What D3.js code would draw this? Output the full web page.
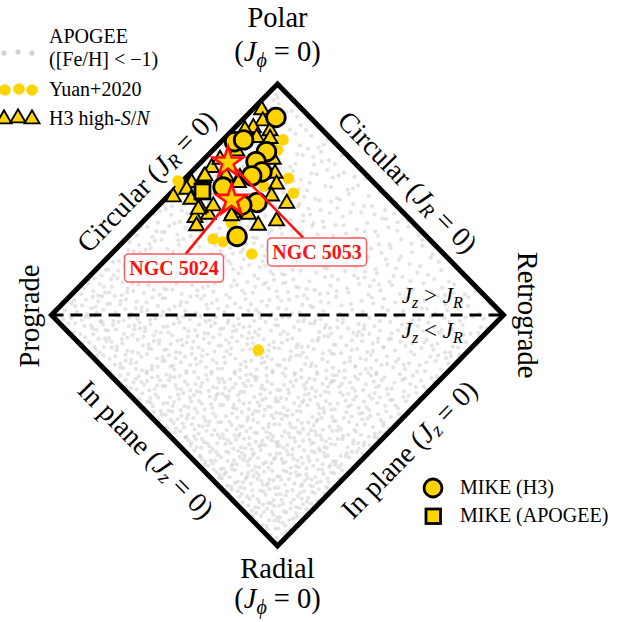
<!DOCTYPE html>
<html><head><meta charset="utf-8">
<script src="https://cdn.jsdelivr.net/npm/d3@7"></script>
<style>html,body{margin:0;padding:0;background:#fff;}svg{display:block;}</style>
</head><body>
<svg id="chart" width="618" height="622"></svg>
<script>
// ---- data (action-space coordinates: x = Jphi/Jtot, y = (Jz-JR)/Jtot) ----
const mikeH3 = [
  [-0.007,0.855],[-0.190,0.750],[-0.150,0.758],[-0.049,0.707],[-0.095,0.664],
  [-0.069,0.619],[-0.114,0.602],[-0.241,0.554],[-0.091,0.487],[-0.158,0.476],[-0.179,0.340]
];
const mikeApogee = [[-0.332,0.535]];
const h3HighSN = [
  [-0.070,0.892],[-0.065,0.844],[-0.107,0.815],[-0.033,0.801],[-0.092,0.772],[-0.033,0.768],
  [-0.144,0.805],[-0.019,0.678],[-0.011,0.617],[-0.004,0.570],[-0.026,0.519],[0.041,0.487],
  [-0.004,0.411],[-0.085,0.392],[-0.196,0.447],[-0.365,0.426],[-0.358,0.390],[-0.306,0.440],
  [-0.343,0.469],[-0.328,0.599],[-0.380,0.577],[-0.402,0.548],[-0.461,0.515],[-0.383,0.505],
  [-0.291,0.642],[-0.254,0.678],[-0.166,0.599],[-0.181,0.469],[-0.129,0.440],[-0.284,0.476],
  [-0.350,0.462],[-0.173,0.577],[-0.321,0.606],[-0.203,0.433],[-0.181,0.714],[-0.228,0.606]
];
const yuan2020 = [
  [-0.285,0.329],[-0.241,0.317],[-0.114,0.264],[-0.085,-0.152],[0.048,0.592],[0.070,0.527],
  [0.000,0.714],[-0.203,0.397],[-0.431,0.541],[-0.440,0.580],[0.024,0.758],[-0.060,0.558]
];
const clusters = [
  {name:"NGC 5053", x:-0.219, y:0.667, lx:0.175, ly:0.273},
  {name:"NGC 5024", x:-0.203, y:0.505, lx:-0.458, ly:0.203}
];
// APOGEE [Fe/H] < -1 stars: relative number of stars per 0.25 x 0.25 cell (rows from y=1 down to y=-1, cols x=-1..1)
const apogeeCellEdgesX = [-1,-0.75,-0.5,-0.25,0,0.25,0.5,0.75];
const apogeeCellEdgesY = [0.75,0.5,0.25,0,-0.25,-0.5,-0.75,-1];
const apogeeDensity = [
  [30,30,30,36,34,26,24,24],
  [38,38,38,40,34,30,24,24],
  [52,48,44,40,36,32,28,24],
  [66,58,50,46,44,38,32,30],
  [78,70,64,64,60,54,48,44],
  [78,78,78,80,76,66,54,50],
  [84,86,88,94,90,76,62,60],
  [86,90,94,96,90,84,72,66]
];

// ---- layout ----
const svg = d3.select("#chart");
const xS = d3.scaleLinear().domain([-1,1]).range([51.5,503.5]);
const yS = d3.scaleLinear().domain([-1,1]).range([546,84]);
const SERIF = "'Liberation Serif','Times New Roman',Times,serif";
const GOLD = "#ffd400";
const RED = "#ff1010";

// APOGEE background points (placed deterministically inside each cell)
function halton(i,b){let f=1,r=0;while(i>0){f/=b;r+=f*(i%b);i=Math.floor(i/b);}return r;}
const apogeePts = [];
let k = 1;
apogeeDensity.forEach((row,ri)=>{
  row.forEach((n,ci)=>{
    const x0 = apogeeCellEdgesX[ci], y0 = apogeeCellEdgesY[ri];
    for(let j=0;j<n;j++,k++){
      const x = x0 + 0.25*halton(k,2), y = y0 + 0.25*halton(k,3);
      if(Math.abs(x)+Math.abs(y) < 0.99) apogeePts.push([x,y]);
    }
  });
});
svg.append("g").selectAll("circle").data(apogeePts).join("circle")
  .attr("cx",d=>xS(d[0])).attr("cy",d=>yS(d[1])).attr("r",2.1)
  .attr("fill","#c4c4c4").attr("fill-opacity",0.45);

// diamond
const corners = [[0,1],[1,0],[0,-1],[-1,0]];
svg.append("path")
  .attr("d", d3.line().x(d=>xS(d[0])).y(d=>yS(d[1]))(corners)+"Z")
  .attr("fill","none").attr("stroke","#000").attr("stroke-width",5).attr("stroke-linejoin","miter");
svg.append("line").attr("x1",xS(-1)).attr("x2",xS(1)).attr("y1",yS(0)).attr("y2",yS(0))
  .attr("stroke","#000").attr("stroke-width",3).attr("stroke-dasharray","12,7");

// markers
const gM = svg.append("g");
gM.selectAll("circle.yuan").data(yuan2020).join("circle").attr("class","yuan")
  .attr("cx",d=>xS(d[0])).attr("cy",d=>yS(d[1])).attr("r",5.8).attr("fill",GOLD);
const tri = d3.symbol().type(d3.symbolTriangle).size(98);
gM.selectAll("path.tri").data(h3HighSN).join("path").attr("class","tri")
  .attr("d",tri).attr("transform",d=>`translate(${xS(d[0])},${yS(d[1])+1})`)
  .attr("fill",GOLD).attr("stroke","#000").attr("stroke-width",1.9).attr("stroke-linejoin","miter");
gM.selectAll("rect.mk").data(mikeApogee).join("rect").attr("class","mk")
  .attr("x",d=>xS(d[0])-7.5).attr("y",d=>yS(d[1])-7.5).attr("width",15).attr("height",15)
  .attr("fill",GOLD).attr("stroke","#000").attr("stroke-width",2.8);
gM.selectAll("circle.mk").data(mikeH3).join("circle").attr("class","mk")
  .attr("cx",d=>xS(d[0])).attr("cy",d=>yS(d[1])).attr("r",9.3)
  .attr("fill",GOLD).attr("stroke","#000").attr("stroke-width",2.8);

// cluster annotations
const boxW = 99, boxH = 28;
clusters.forEach(c=>{
  const sx = xS(c.x), sy = yS(c.y), bx = xS(c.lx), by = yS(c.ly);
  const t = (boxH/2)/(by-sy);
  svg.append("line").attr("x1",bx+(sx-bx)*t).attr("y1",by-boxH/2).attr("x2",sx).attr("y2",sy)
    .attr("stroke",RED).attr("stroke-width",2.6);
});
const star = d3.symbol().type(d3.symbolStar).size(285);
svg.selectAll("path.star").data(clusters).join("path").attr("class","star")
  .attr("d",star).attr("transform",d=>`translate(${xS(d.x)},${yS(d.y)+1.5})`)
  .attr("fill",GOLD).attr("stroke",RED).attr("stroke-width",2.6).attr("stroke-linejoin","miter");
clusters.forEach(c=>{
  const bx = xS(c.lx), by = yS(c.ly);
  svg.append("rect").attr("x",bx-boxW/2).attr("y",by-boxH/2).attr("width",boxW).attr("height",boxH)
    .attr("rx",4).attr("fill","#fff").attr("stroke","#ff5a5a").attr("stroke-width",1.5);
  svg.append("text").attr("x",bx).attr("y",by+7).attr("text-anchor","middle")
    .attr("font-family",SERIF).attr("font-weight","bold").attr("font-size",20).attr("fill",RED)
    .text(c.name);
});

// rich text helper
function rich(sel, parts, size){
  parts.forEach(p=>{
    const ts = sel.append("tspan").text(p.t);
    if(p.i) ts.attr("font-style","italic");
    if(p.sub){ ts.attr("font-size",size*0.7).attr("dy",size*0.22); }
    if(p.up){ ts.attr("dy",-size*0.22); }
  });
  return sel;
}
function label(x,y,rot,parts,size,anchor,baseline){
  const t = svg.append("text").attr("transform",`translate(${x},${y}) rotate(${rot})`)
    .attr("text-anchor",anchor||"middle").attr("font-family",SERIF).attr("font-size",size).attr("fill","#000");
  if(baseline) t.attr("dominant-baseline",baseline);
  return rich(t,parts,size);
}
const FS = 28.5;
const jphi0 = [{t:"("},{t:"J",i:true},{t:"ϕ",i:true,sub:true},{t:" = 0)",up:true}];
label(277.5,27,0,[{t:"Polar"}],FS);
label(277.5,61,0,jphi0,FS);
label(277.5,578,0,[{t:"Radial"}],FS);
label(277.5,608,0,jphi0,FS);
label(39,316,-90,[{t:"Prograde"}],FS);
label(518,315,90,[{t:"Retrograde"}],FS);

// edge labels
const ang = Math.atan2(yS(0)-yS(1), xS(1)-xS(0))*180/Math.PI;
const edges = [
  {a:[-1,0],b:[0,1],rot:-ang,off:26,parts:[{t:"Circular ("},{t:"J",i:true},{t:"R",i:true,sub:true},{t:" = 0)",up:true}]},
  {a:[0,1],b:[1,0],rot:ang,off:25,parts:[{t:"Circular ("},{t:"J",i:true},{t:"R",i:true,sub:true},{t:" = 0)",up:true}]},
  {a:[-1,0],b:[0,-1],rot:ang,off:26,parts:[{t:"In plane ("},{t:"J",i:true},{t:"z",i:true,sub:true},{t:" = 0)",up:true}]},
  {a:[0,-1],b:[1,0],rot:-ang,off:26,parts:[{t:"In plane ("},{t:"J",i:true},{t:"z",i:true,sub:true},{t:" = 0)",up:true}]}
];
edges.forEach(e=>{
  const ax=xS(e.a[0]), ay=yS(e.a[1]), bx=xS(e.b[0]), by=yS(e.b[1]);
  const mx=(ax+bx)/2, my=(ay+by)/2;
  let nx = mx-277.5, ny = my-315; const L=Math.hypot(nx,ny); nx/=L; ny/=L;
  label(mx+nx*e.off, my+ny*e.off, e.rot, e.parts, 28, "middle", "central");
});

// Jz vs JR
label(xS(0.82), yS(0.052), 0, [{t:"J",i:true},{t:"z",i:true,sub:true},{t:" > ",up:true},{t:"J",i:true},{t:"R",i:true,sub:true}], 23, "end");
label(xS(0.82), yS(-0.1), 0, [{t:"J",i:true},{t:"z",i:true,sub:true},{t:" < ",up:true},{t:"J",i:true},{t:"R",i:true,sub:true}], 23, "end");

// legend top-left
const lg = svg.append("g");
[[4,53],[18,52],[32,53]].forEach(p=>lg.append("circle").attr("cx",p[0]).attr("cy",p[1]).attr("r",2.6).attr("fill","#d0d0d0"));
[[5,90],[19,89],[32,90]].forEach(p=>lg.append("circle").attr("cx",p[0]).attr("cy",p[1]).attr("r",5.8).attr("fill",GOLD));
[[4,119],[18,118],[32,119]].forEach(p=>lg.append("path").attr("d",tri).attr("transform",`translate(${p[0]},${p[1]})`)
  .attr("fill",GOLD).attr("stroke","#000").attr("stroke-width",1.9));
const LFS = 20;
label(49,43,0,[{t:"APOGEE"}],LFS,"start");
label(49,66,0,[{t:"([Fe/H] < −1)"}],LFS,"start");
label(49,96,0,[{t:"Yuan+2020"}],LFS,"start");
label(49,125,0,[{t:"H3 high-"},{t:"S",i:true},{t:"/"},{t:"N",i:true}],LFS,"start");

// legend bottom-right
lg.append("circle").attr("cx",433).attr("cy",488).attr("r",9).attr("fill",GOLD).attr("stroke","#000").attr("stroke-width",2.8);
lg.append("rect").attr("x",426).attr("y",509).attr("width",14.5).attr("height",14.5).attr("fill",GOLD).attr("stroke","#000").attr("stroke-width",2.8);
label(460,494,0,[{t:"MIKE (H3)"}],LFS,"start");
label(460,522,0,[{t:"MIKE (APOGEE)"}],LFS,"start");
</script>
</body></html>
